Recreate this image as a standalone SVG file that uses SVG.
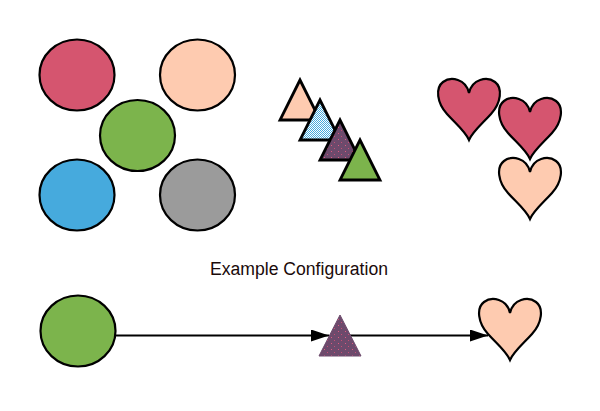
<svg xmlns="http://www.w3.org/2000/svg" width="600" height="411" viewBox="0 0 600 411">
<style>
.sh{stroke:#000;stroke-width:2.2}
.tri{stroke:#000;stroke-width:2.8;stroke-linejoin:miter}
.edge{stroke:#000;stroke-width:2;fill:none}
.lbl{font-family:"Liberation Sans",Arial,sans-serif;font-size:17.6px;fill:#1a0a0a}
</style>
<defs>
<pattern id="check" width="2" height="2" patternUnits="userSpaceOnUse">
<rect width="2" height="2" fill="#ffffff"/>
<rect width="1" height="1" fill="#46aadd"/>
<rect x="1" y="1" width="1" height="1" fill="#46aadd"/>
</pattern>
<pattern id="dots" width="7" height="6" patternUnits="userSpaceOnUse">
<rect width="7" height="6" fill="#6d4a6c"/>
<rect x="2" y="1" width="1" height="1" fill="#e05a80"/>
<rect x="5" y="4" width="1" height="1" fill="#c84f75"/>
</pattern>
<path id="heart" d="M0,0 C-3,-14 -18,-17 -26,-11 C-34,-5 -32,10 -22,21 C-13,31 -4,38 0,47 C4,38 13,31 22,21 C32,10 34,-5 26,-11 C18,-17 3,-14 0,0 Z"/>
<marker id="arr" markerWidth="18" markerHeight="12" refX="18" refY="6" orient="auto" markerUnits="userSpaceOnUse">
<path d="M0,0 L18,6 L0,12 Z" fill="#000"/>
</marker>
</defs>
<rect width="600" height="411" fill="#ffffff"/>
<g id="circle-pink"><ellipse class="sh" cx="77" cy="75" rx="37.5" ry="35.5" fill="#d5556f"/></g>
<g id="circle-peach"><ellipse class="sh" cx="197.5" cy="75" rx="37.5" ry="35.5" fill="#fecbb0"/></g>
<g id="circle-green"><ellipse class="sh" cx="137.5" cy="135.5" rx="37.5" ry="35.5" fill="#7cb44c"/></g>
<g id="circle-blue"><ellipse class="sh" cx="77" cy="195" rx="37.5" ry="35.5" fill="#46aadd"/></g>
<g id="circle-gray"><ellipse class="sh" cx="197.5" cy="195" rx="37.5" ry="35.5" fill="#9b9b9b"/></g>
<g id="tri-peach"><polygon class="tri" points="300,80 320,120 280,120" fill="#fecbb0"/></g>
<g id="tri-blue"><polygon class="tri" points="320,100 340,140 300,140" fill="url(#check)"/></g>
<g id="tri-purple"><polygon class="tri" points="340,120 360,160 320,160" fill="url(#dots)"/></g>
<g id="tri-green"><polygon class="tri" points="360,140 380,180 340,180" fill="#7cb44c"/></g>
<g id="heart-1"><use href="#heart" x="469" y="93" class="sh" fill="#d5556f"/></g>
<g id="heart-2"><use href="#heart" x="530" y="112" class="sh" fill="#d5556f"/></g>
<g id="heart-3"><use href="#heart" x="530" y="172" class="sh" fill="#fecbb0"/></g>
<g id="label"><text class="lbl" x="299" y="275" text-anchor="middle">Example Configuration</text></g>
<g id="connectors">
<line class="edge" x1="116" y1="335.5" x2="329" y2="335.5" marker-end="url(#arr)"/>
<line class="edge" x1="350" y1="335.5" x2="488" y2="335.5" marker-end="url(#arr)"/>
</g>
<g id="circle-bottom"><ellipse class="sh" cx="78" cy="331" rx="37.5" ry="35.5" fill="#7cb44c"/></g>
<g id="tri-bottom"><polygon points="340,315 361,356 319,356" fill="url(#dots)" stroke="#6d4a6c" stroke-width="1"/></g>
<g id="heart-bottom"><use href="#heart" x="510" y="313" class="sh" fill="#fecbb0"/></g>
</svg>
